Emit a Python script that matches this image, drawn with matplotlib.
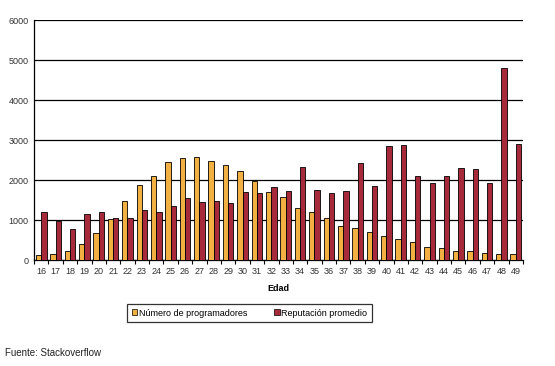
import numpy as np
import matplotlib.pyplot as plt
from matplotlib.patches import Patch

plt.rcParams.update({
    'font.family': ['Liberation Sans', 'DejaVu Sans'],
})

# datos
edades = list(range(16, 50))
programadores = [117, 142, 217, 392, 667, 1017, 1467, 1867, 2092, 2442, 2542,
                 2567, 2467, 2367, 2217, 1967, 1692, 1567, 1292, 1192, 1042,
                 842, 792, 692, 592, 517, 442, 317, 292, 217, 217, 167, 142, 142]
reputacion = [1192, 975, 767, 1142, 1192, 1042, 1042, 1242, 1192, 1342, 1542,
              1442, 1467, 1417, 1692, 1667, 1817, 1717, 2317, 1742, 1667,
              1717, 2417, 1842, 2842, 2867, 2092, 1917, 2092, 2292, 2267,
              1917, 4792, 2892]

c_orange = '#F3B042'
c_red = '#A62A3A'

fig = plt.figure(figsize=(5.55, 3.66), dpi=100)
ax = fig.add_axes([34 / 555, 1 - 260 / 366, 489 / 555, 240 / 366])

x = np.arange(len(edades))
w = 0.37
ax.bar(x - w / 2, programadores, w, color=c_orange, edgecolor='black', linewidth=0.6, zorder=3)
ax.bar(x + w / 2, reputacion, w, color=c_red, edgecolor='black', linewidth=0.6, zorder=3)

ax.set_xlim(-0.5, len(edades) - 0.5)
ax.set_ylim(0, 6000)
ax.set_yticks(range(0, 6001, 1000))
ax.yaxis.grid(True, color='black', linewidth=0.9, zorder=0)
ax.tick_params(axis='y', length=0, labelsize=6.5, pad=4, colors='#333333')

ax.set_xticks(x)
ax.set_xticklabels([str(e) for e in edades])
ax.set_xticks(np.arange(-0.5, len(edades), 1), minor=True)
ax.tick_params(axis='x', which='major', length=0, labelsize=6.5, pad=5, colors='#333333')
ax.tick_params(axis='x', which='minor', length=3, width=0.8, direction='out')

for s in ['top', 'right']:
    ax.spines[s].set_visible(False)
ax.spines['left'].set_linewidth(0.9)
ax.spines['bottom'].set_linewidth(0.9)

ax.set_xlabel('Edad', fontsize=6.5, fontweight='bold', labelpad=6)

handles = [Patch(facecolor=c_orange, edgecolor='black', linewidth=0.5),
           Patch(facecolor=c_red, edgecolor='black', linewidth=0.5)]
leg = fig.legend(handles, ['Número de programadores', 'Reputación promedio'],
                 loc='center', bbox_to_anchor=(249.5 / 555, 1 - 313 / 366), ncol=2,
                 fontsize=6.5, frameon=True, fancybox=False, handlelength=0.6,
                 handleheight=0.6, handletextpad=0.2, columnspacing=3.0,
                 borderpad=0.5)
leg.get_frame().set_edgecolor('black')
leg.get_frame().set_linewidth(0.9)

fig.text(5 / 555, 1 - 353 / 366, 'Fuente: Stackoverflow', fontsize=7, va='center', color='#222222')

fig.savefig('out.png', dpi=100)
